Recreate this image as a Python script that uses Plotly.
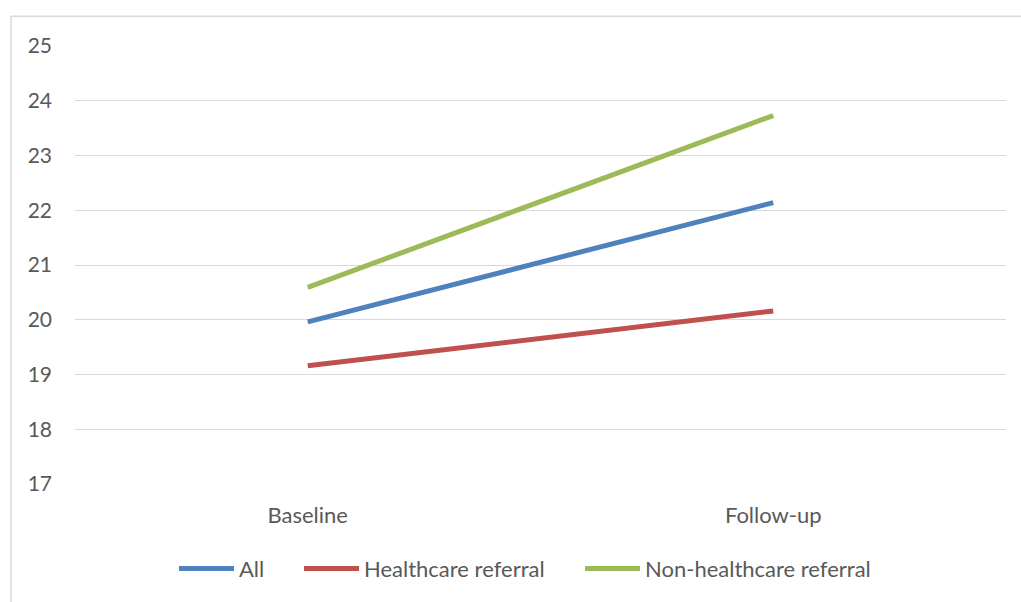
import plotly.graph_objects as go

categories = ["Baseline", "Follow-up"]
series_names = ["All", "Healthcare referral", "Non-healthcare referral"]
all_values = [19.96, 22.14]
healthcare_values = [19.16, 20.16]
non_healthcare_values = [20.59, 23.73]
colors = ["#4F81BD", "#C0504D", "#9BBB59"]
y_ticks = [17, 18, 19, 20, 21, 22, 23, 24, 25]

W, H = 1021, 602
ML, MR, MT, MB = 75, 15, 46, 116
pw = W - ML - MR
ph = H - MT - MB

legend_ids = ["legend", "legend2", "legend3"]
legend_left_px = [174, 299, 580]

fig = go.Figure()
for name, vals, c, lid in zip(series_names, [all_values, healthcare_values, non_healthcare_values], colors, legend_ids):
    fig.add_trace(go.Scatter(x=categories, y=vals, mode="lines", name=name,
                             line=dict(color=c, width=5), legend=lid))

font_family = "Lato, 'Liberation Sans', sans-serif"
legend_common = dict(orientation="h", xanchor="left", yanchor="middle",
                     y=(486 - 571) / ph, font=dict(size=22, color="#595959"),
                     itemwidth=55, bgcolor="rgba(0,0,0,0)")
fig.update_layout(
    width=W, height=H,
    margin=dict(l=ML, r=MR, t=MT, b=MB),
    paper_bgcolor="white", plot_bgcolor="white",
    font=dict(family=font_family, size=21, color="#595959"),
    showlegend=True,
    xaxis=dict(type="category", range=[-0.5, 1.5], showgrid=False, zeroline=False,
               showline=False, ticks="", tickfont=dict(size=22, color="#595959"),
               ticklabelstandoff=16),
    yaxis=dict(range=[17, 25], tickvals=y_ticks, showgrid=True, gridcolor="#D9D9D9",
               gridwidth=1.3, zeroline=False, showline=False, ticks="",
               tickfont=dict(size=21, color="#595959"), ticklabelstandoff=22),
)
for lid, lx in zip(legend_ids, legend_left_px):
    fig.update_layout({lid: dict(legend_common, x=(lx - ML) / pw)})

# outer chart border (light gray), extends beyond bottom/right of the view
fig.add_shape(type="rect", xref="paper", yref="paper",
              x0=(11 - ML) / pw, x1=(1030 - ML) / pw,
              y0=(H - MB - 610) / ph, y1=(H - MB - 16) / ph,
              line=dict(color="#D9D9D9", width=1.5), fillcolor="rgba(0,0,0,0)", layer="below")

fig.write_html("out.html")
